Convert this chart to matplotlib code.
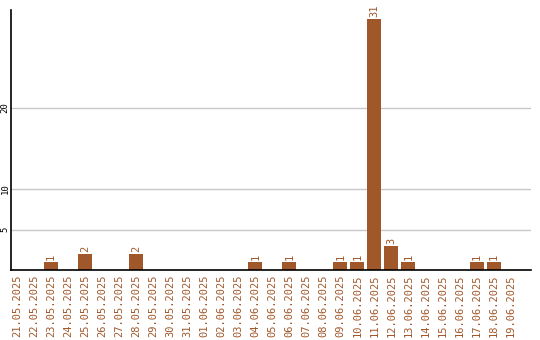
import numpy as np
import matplotlib.pyplot as plt

dates = ['21.05.2025', '22.05.2025', '23.05.2025', '24.05.2025', '25.05.2025',
         '26.05.2025', '27.05.2025', '28.05.2025', '29.05.2025', '30.05.2025',
         '31.05.2025', '01.06.2025', '02.06.2025', '03.06.2025', '04.06.2025',
         '05.06.2025', '06.06.2025', '07.06.2025', '08.06.2025', '09.06.2025',
         '10.06.2025', '11.06.2025', '12.06.2025', '13.06.2025', '14.06.2025',
         '15.06.2025', '16.06.2025', '17.06.2025', '18.06.2025', '19.06.2025']
counts = [0, 0, 1, 0, 2, 0, 0, 2, 0, 0,
          0, 0, 0, 0, 1, 0, 1, 0, 0, 1,
          1, 31, 3, 1, 0, 0, 0, 1, 1, 0]
yticks = [5, 10, 20]

color = '#a0572a'
mono = 'DejaVu Sans Mono'

fig = plt.figure(figsize=(5.4, 3.4), dpi=100)
ax = fig.add_axes([11/540, 1 - 270/340, 520/540, 260/340])

x = np.arange(len(dates))
ax.bar(x, counts, width=0.82, color=color, zorder=2)
for xi, v in zip(x, counts):
    if v > 0:
        ax.text(xi, v + 0.2, str(v), rotation=90, ha='center', va='bottom',
                color=color, fontsize=7.5, family=mono)

ax.set_xlim(-0.35, 30.2)
ax.set_ylim(0, 32.1)
ax.set_yticks(yticks)
ax.set_yticklabels([str(t) for t in yticks], rotation=90, va='center',
                   fontsize=6.5, family=mono)
ax.yaxis.grid(True, color='#c8c8c8', linewidth=1, zorder=0)
ax.set_xticks(x)
ax.set_xticklabels(dates, rotation=90, fontsize=7.5, family=mono, color=color)
ax.tick_params(axis='both', length=0, pad=3)
ax.tick_params(axis='y', pad=1)
for s in ['top', 'right']:
    ax.spines[s].set_visible(False)
for s in ['left', 'bottom']:
    ax.spines[s].set_linewidth(1.2)

fig.savefig('out.png', dpi=100)
